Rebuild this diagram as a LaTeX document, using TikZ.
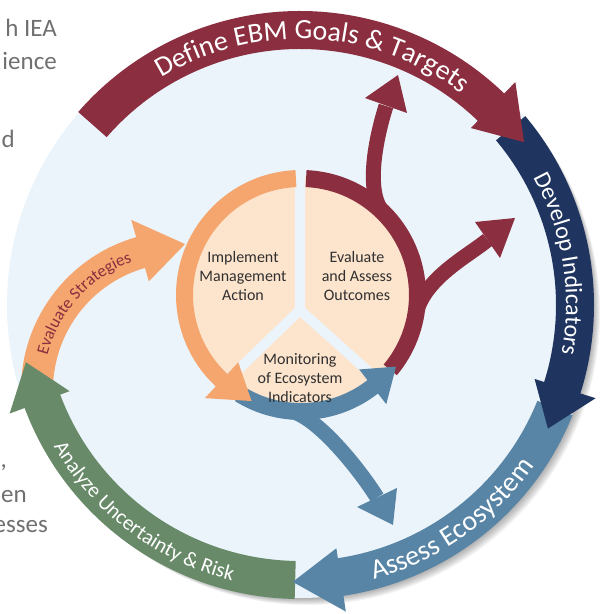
\documentclass[tikz,border=0pt]{standalone}
\usepackage{fontspec}
\setmainfont{Carlito}
\usetikzlibrary{decorations.text}
\definecolor{cMaroon}{HTML}{8B2E3F}
\definecolor{cNavy}{HTML}{1F3560}
\definecolor{cSteel}{HTML}{5885A6}
\definecolor{cGreen}{HTML}{688A69}
\definecolor{cOrange}{HTML}{F5A66E}
\definecolor{cPeach}{HTML}{FDE4CD}
\definecolor{cSky}{HTML}{EBF4FA}
\definecolor{cGrayText}{HTML}{707070}
\definecolor{cInner}{HTML}{303030}
\begin{document}
\begin{tikzpicture}[x=1pt,y=1pt,
  band/.style={line width=38pt},
  ringband/.style={line width=17pt},
  stem/.style={line width=15pt},
  innerlabel/.style={align=center,text=cInner,font=\fontsize{16}{19}\selectfont,inner sep=0pt},
  sidetext/.style={text=cGrayText,font=\fontsize{25}{30}\selectfont,inner sep=0pt},
]
\useasboundingbox (0,0) rectangle (600,614);
\fill[white] (0,0) rectangle (600,614);
\coordinate (C) at (300,309);
\coordinate (I) at (301,319);
\coordinate (J) at (300,304);
\coordinate (S) at (180,224);

% side texts (cut-off slide text)
\node[sidetext,anchor=base east] (t1) at (57,577) {h IEA};
\node[sidetext,anchor=base east] (t2) at (57,544) {ience};
\node[sidetext,anchor=base east] (t3) at (15,466) {d};
\node[sidetext,anchor=base east] (t4) at (7,146) {,};
\node[sidetext,anchor=base east] (t5) at (27,111) {en};
\node[sidetext,anchor=base east] (t6) at (48,81) {esses};

% shadow and disc
\foreach \k in {1,...,9} \fill[black,opacity=0.045] ([shift={(0.9*\k,-0.9*\k)}]C) circle[radius=292pt];
\fill[cSky] (C) circle[radius=293pt];

% outer bands
\draw[band,cGreen] ([shift={(269:275pt)}]C) arc[start angle=269,end angle=199,radius=275pt];
\draw[band,cSteel] ([shift={(-22:275pt)}]C) arc[start angle=-22,end angle=-83,radius=275pt];
\draw[band,cNavy] ([shift={(40:275pt)}]C) arc[start angle=40,end angle=-18,radius=275pt];
\draw[band,cMaroon] ([shift={(139:275pt)}]C) arc[start angle=139,end angle=45,radius=275pt];

% evaluate strategies arrow
\draw[line width=32pt,cOrange] ([shift={(183:143pt)}]S) arc[start angle=183,end angle=105,radius=143pt];
\fill[cOrange] ([shift={(106:113pt)}]S) -- ([shift={(106:177pt)}]S) -- ([shift={(88:146pt)}]S) -- cycle;

% outer arrowheads
\fill[cMaroon] ([shift={(46:246pt)}]C) -- ([shift={(46:310pt)}]C) -- ([shift={(36:277pt)}]C) -- cycle;
\fill[cNavy] ([shift={(-17.5:246pt)}]C) -- ([shift={(-17.5:310pt)}]C) -- ([shift={(-26.5:277pt)}]C) -- cycle;
\fill[cSteel] ([shift={(-81.5:246pt)}]C) -- ([shift={(-81.5:310pt)}]C) -- ([shift={(-91.5:277pt)}]C) -- cycle;
\fill[cGreen] ([shift={(200.5:246pt)}]C) -- ([shift={(200.5:310pt)}]C) -- ([shift={(191.8:280pt)}]C) -- cycle;

% ring labels
\path[decorate,decoration={text along path,text align=center,text color=white,
  text={|\fontsize{28}{28}\selectfont|Define EBM Goals {\&} Targets}}]
  ([shift={(150:266pt)}]C) arc[start angle=150,end angle=24,radius=266pt];
\path[decorate,decoration={text along path,text align=center,text color=white,
  text={|\fontsize{24}{24}\selectfont|Develop Indicators}}]
  ([shift={(60:266pt)}]C) arc[start angle=60,end angle=-42,radius=266pt];
\path[decorate,decoration={text along path,text align=center,text color=white,
  text={|\fontsize{28}{28}\selectfont|Assess Ecosystem}}]
  ([shift={(-105:284pt)}]C) arc[start angle=-105,end angle=-4.4,radius=284pt];
\path[decorate,decoration={text along path,text align=center,text color=white,
  text={|\fontsize{21}{21}\selectfont|Analyze Uncertainty {\&} Risk}}]
  ([shift={(183:284pt)}]C) arc[start angle=183,end angle=283,radius=284pt];
\path[decorate,decoration={text along path,text align=center,text color=cMaroon,
  text={|\fontsize{17}{17}\selectfont|Evaluate Strategies}}]
  ([shift={(178:137pt)}]S) arc[start angle=178,end angle=98,radius=137pt];

% inner circle
\fill[cPeach] (I) circle[radius=118pt];
\draw[cSky,line width=10pt] (J) -- ++(90:150);
\draw[cSky,line width=10pt] (J) -- ++(224:125);
\draw[cSky,line width=10pt] (J) -- ++(-42:125);

\draw[ringband,cOrange] ([shift={(92.5:116.5pt)}]I) arc[start angle=92.5,end angle=229,radius=116.5pt];
\draw[ringband,cMaroon] ([shift={(87.5:116.5pt)}]I) arc[start angle=87.5,end angle=-40,radius=116.5pt];

% maroon branches
\draw[stem,cMaroon] ([shift={(45:116.5pt)}]I) .. controls (366,420) and (374,470) .. (386,508);
\fill[cMaroon] (365,516) -- (398,539) -- (407,501) -- cycle;
\draw[stem,cMaroon] ([shift={(-10:116.5pt)}]I) .. controls (423,335) and (468,358) .. (487.5,374);
\fill[cMaroon] (475,392) -- (515,396) -- (500,356) -- cycle;

% blue ring and branch
\draw[ringband,cSteel] ([shift={(238:116.5pt)}]I) arc[start angle=238,end angle=309,radius=116.5pt];
\draw[stem,cSteel] ([shift={(-95:116.5pt)}]I) .. controls (320,196) and (364,138) .. (377,116.5);
\fill[cSteel] (357,107) -- (393,89) -- (397,126) -- cycle;
\fill[cSteel] ([shift={(308:94.5pt)}]I) -- ([shift={(308:138.5pt)}]I) -- ([shift={(323:119pt)}]I) -- cycle;
\fill[cOrange] ([shift={(227:92pt)}]I) -- ([shift={(227:141pt)}]I) -- ([shift={(245:117pt)}]I) -- cycle;

% inner labels
\node[innerlabel] (impl) at (243,338) {Implement\\Management\\Action};
\node[innerlabel] (eval) at (357,338) {Evaluate\\and Assess\\Outcomes};
\node[innerlabel] (mon) at (300,236) {Monitoring\\of Ecosystem\\Indicators};
\end{tikzpicture}
\end{document}
